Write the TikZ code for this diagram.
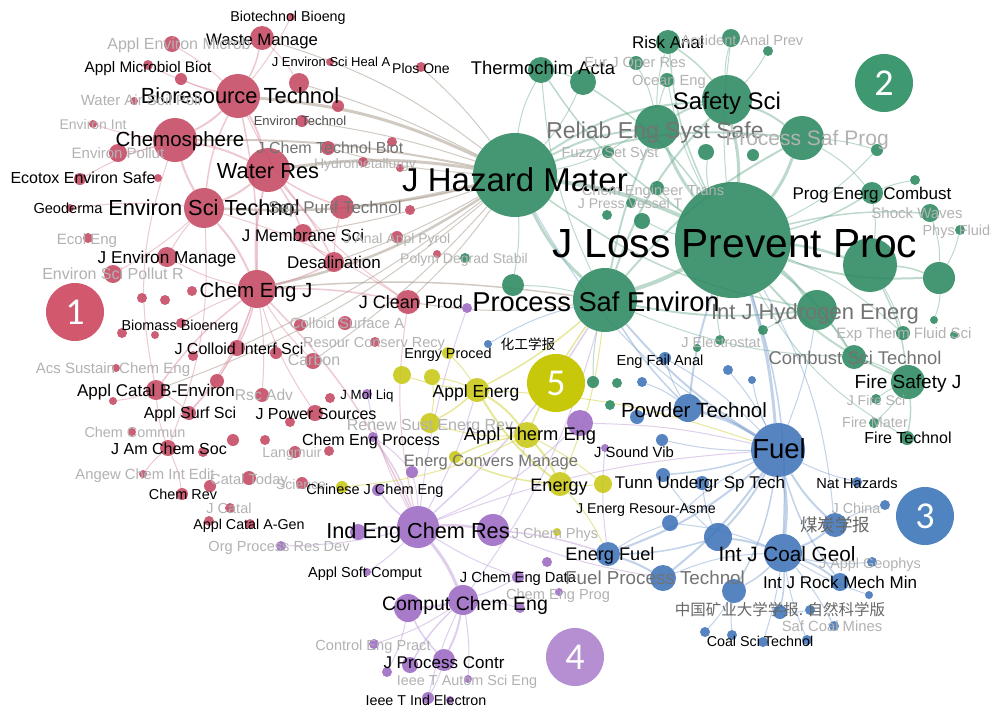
\documentclass[tikz,border=0pt]{standalone}
\usepackage{fontspec}
\setmainfont{Liberation Sans}
\newfontfamily\cjk{Noto Sans CJK SC}
\newfontfamily\bdgfont{Carlito}
\usetikzlibrary{backgrounds}
\newcommand{\jfs}[1]{\fontsize{#1}{#1}\selectfont}

\definecolor{clA}{RGB}{196,72,98}
\definecolor{clB}{RGB}{44,137,96}
\definecolor{clC}{RGB}{62,115,185}
\definecolor{clD}{RGB}{155,105,195}
\definecolor{clE}{RGB}{200,200,20}
\definecolor{clX}{RGB}{165,150,135}
\definecolor{bgA}{RGB}{210,88,110}
\definecolor{bgB}{RGB}{62,152,112}
\definecolor{bgC}{RGB}{80,132,192}
\definecolor{bgD}{RGB}{182,142,210}
\definecolor{bgE}{RGB}{200,200,10}

\tikzset{
  jr/.style={circle, inner sep=0pt, minimum size=#1, fill opacity=.88},
  ra/.style={jr=#1, fill=clA},
  ga/.style={jr=#1, fill=clB},
  ba/.style={jr=#1, fill=clC},
  pa/.style={jr=#1, fill=clD},
  ya/.style={jr=#1, fill=clE},
  tl/.style={inner sep=0pt, anchor=base, yshift=-0.36*#1pt, font=\jfs{#1}},
  ml/.style={tl=#1, text=black!55},
  fl/.style={tl=#1, text=black!30},
  cl/.style={tl=#1, font=\cjk\jfs{#1}},
  ea/.style={draw=clA!65, line width=#1, draw opacity=.45}, ea/.default=1pt,
  eb/.style={draw=clB!70, line width=#1, draw opacity=.45}, eb/.default=1pt,
  ec/.style={draw=clC!70, line width=#1, draw opacity=.45}, ec/.default=1pt,
  ed/.style={draw=clD!70, line width=#1, draw opacity=.45}, ed/.default=1pt,
  ee/.style={draw=clE!85, line width=#1, draw opacity=.5}, ee/.default=1pt,
  ex/.style={draw=clX, line width=#1, draw opacity=.5}, ex/.default=1pt,
  badge/.style={circle, inner sep=0pt, minimum size=58, text=white, font=\bdgfont\jfs{38}}
}

\begin{document}
\begin{tikzpicture}[x=1pt,y=-1pt]
\useasboundingbox (0,0) rectangle (991,710);

% cluster 1
\node[ra=8] (biobg) at (291,17) {};
\node[ra=24] (waste) at (262,38) {};
\node[ra=16] (aemic) at (172,44) {};
\node[ra=10] (amb) at (148,65) {};
\node[ra=12] (r1) at (181,79) {};
\node[ra=8] (jesh) at (330,62) {};
\node[ra=10] (plos) at (421,67) {};
\node[ra=20] (r2) at (299,83) {};
\node[ra=44] (biores) at (238,96) {};
\node[ra=8] (wasp) at (134,101) {};
\node[ra=12] (r3) at (338,106) {};
\node[ra=8] (envint) at (93,124) {};
\node[ra=12] (envtec) at (302,121) {};
\node[ra=44] (chemo) at (175,140) {};
\node[ra=18] (envpol) at (118,153) {};
\node[ra=14] (jctb) at (328,148) {};
\node[ra=10] (r4) at (392,142) {};
\node[ra=10] (hydro) at (363,162) {};
\node[ra=8] (r5) at (400,168) {};
\node[ra=44] (wres) at (268,170) {};
\node[ra=12] (ecotox) at (80,179) {};
\node[ra=8] (r6) at (158,178) {};
\node[ra=8] (geod) at (70,208) {};
\node[ra=40] (est) at (204,208) {};
\node[ra=24] (spt) at (342,207) {};
\node[ra=10] (r7) at (410,210) {};
\node[ra=18] (jms) at (303,233) {};
\node[ra=12] (jaap) at (397,237) {};
\node[ra=10] (ecoleng) at (88,238) {};
\node[ra=20] (jem) at (167,257) {};
\node[ra=20] (desal) at (334,262) {};
\node[ra=8] (r8) at (437,254) {};
\node[ra=18] (espr) at (113,274) {};
\node[ra=38] (cej) at (257,289) {};
\node[ra=10] (r9) at (142,298) {};
\node[ra=10] (r10) at (165,300) {};
\node[ra=10] (r11) at (192,291) {};
\node[ra=24] (jcp) at (408,302) {};
\node[ra=12] (r12) at (300,325) {};
\node[ra=14] (csa) at (345,323) {};
\node[ra=10] (biom) at (181,323) {};
\node[ra=10] (r13) at (122,333) {};
\node[ra=8] (r14) at (155,335) {};
\node[ra=10] (rcr) at (375,342) {};
\node[ra=16] (jcis) at (237,348) {};
\node[ra=10] (r15) at (193,356) {};
\node[ra=12] (r16) at (276,353) {};
\node[ra=16] (carbon) at (313,361) {};
\node[ra=8] (acs) at (116,368) {};
\node[ra=20] (acb) at (156,390) {};
\node[ra=14] (r17) at (217,381) {};
\node[ra=14] (rsc) at (262,395) {};
\node[ra=8] (r18) at (113,401) {};
\node[ra=10] (r19) at (330,398) {};
\node[ra=14] (ass) at (189,413) {};
\node[ra=16] (jps) at (315,413) {};
\node[ra=10] (r20) at (290,422) {};
\node[ra=8] (chcom) at (132,432) {};
\node[ra=12] (r21) at (233,440) {};
\node[ra=10] (r22) at (265,440) {};
\node[ra=16] (jacs) at (168,448) {};
\node[ra=10] (r23) at (203,452) {};
\node[ra=12] (lang) at (295,452) {};
\node[ra=10] (r24) at (329,451) {};
\node[ra=8] (angew) at (143,474) {};
\node[ra=12] (r25) at (210,486) {};
\node[ra=14] (catal) at (249,478) {};
\node[ra=12] (sci) at (302,483) {};
\node[ra=12] (chemrev) at (182,494) {};
\node[ra=10] (jcat) at (230,508) {};
\node[ra=10] (r26) at (209,521) {};
\node[ra=10] (acag) at (250,524) {};

% cluster 2
\node[ga=84] (jhm) at (515,175) {};
\node[ga=26] (thermo) at (541,70) {};
\node[ga=26] (g1) at (583,82) {};
\node[ga=24] (risk) at (668,42) {};
\node[ga=18] (aap) at (731,38) {};
\node[ga=10] (g2) at (768,51) {};
\node[ga=14] (ejor) at (636,63) {};
\node[ga=14] (ocean) at (667,80) {};
\node[ga=50] (safety) at (727,100) {};
\node[ga=44] (rel) at (657,127) {};
\node[ga=44] (psp) at (802,138) {};
\node[ga=12] (g3) at (877,150) {};
\node[ga=12] (fuzzy) at (608,152) {};
\node[ga=16] (g4) at (706,152) {};
\node[ga=12] (g5) at (753,155) {};
\node[ga=14] (cet) at (657,188) {};
\node[ga=10] (jpv) at (631,203) {};
\node[ga=10] (g6) at (607,215) {};
\node[ga=16] (g7) at (642,221) {};
\node[ga=22] (pec) at (872,193) {};
\node[ga=10] (g8) at (915,180) {};
\node[ga=18] (shock) at (930,213) {};
\node[ga=10] (phys) at (960,230) {};
\node[ga=116] (jlpp) at (733,240) {};
\node[ga=54] (g9) at (870,265) {};
\node[ga=32] (g10) at (939,278) {};
\node[ga=64] (pse) at (605,300) {};
\node[ga=40] (ijhe) at (817,310) {};
\node[ga=22] (g11) at (513,285) {};
\node[ga=10] (pds) at (465,258) {};
\node[ga=14] (etfs) at (903,333) {};
\node[ga=8] (g12) at (954,335) {};
\node[ga=8] (g13) at (934,320) {};
\node[ga=10] (jelec) at (720,340) {};
\node[ga=8] (g14) at (697,348) {};
\node[ga=10] (g15) at (763,330) {};
\node[ga=24] (cst) at (854,357) {};
\node[ga=34] (fsj) at (908,382) {};
\node[ga=10] (jfs) at (876,399) {};
\node[ga=10] (fmat) at (874,423) {};
\node[ga=14] (ftech) at (907,438) {};
\node[ga=12] (g16) at (593,382) {};
\node[ga=10] (g17) at (617,383) {};
\node[ga=10] (g18) at (610,405) {};

% cluster 3
\node[ba=54] (fuel) at (778,450) {};
\node[ba=28] (powder) at (688,408) {};
\node[ba=12] (efa) at (665,358) {};
\node[ba=8] (hgxb) at (488,344) {};
\node[ba=10] (b1) at (728,370) {};
\node[ba=8] (b2) at (752,380) {};
\node[ba=10] (b3) at (642,382) {};
\node[ba=14] (b4) at (637,417) {};
\node[ba=12] (jsv) at (662,440) {};
\node[ba=14] (tunn) at (663,475) {};
\node[ba=14] (b5) at (702,483) {};
\node[ba=10] (nh) at (857,482) {};
\node[ba=10] (jchina) at (885,505) {};
\node[ba=24] (mtxb) at (835,525) {};
\node[ba=16] (jera) at (670,523) {};
\node[ba=38] (ijcg) at (783,553) {};
\node[ba=28] (b6) at (718,537) {};
\node[ba=24] (ef) at (608,554) {};
\node[ba=10] (jag) at (872,562) {};
\node[ba=26] (fpt) at (663,578) {};
\node[ba=18] (ijrm) at (840,582) {};
\node[ba=24] (b7) at (734,591) {};
\node[ba=8] (b8) at (869,595) {};
\node[ba=14] (zgky) at (780,612) {};
\node[ba=10] (b9) at (810,610) {};
\node[ba=10] (scm) at (834,626) {};
\node[ba=10] (b10) at (705,632) {};
\node[ba=10] (b11) at (732,635) {};
\node[ba=10] (cst2) at (763,642) {};
\node[ba=10] (b12) at (807,640) {};

% cluster 4
\node[pa=10] (cep) at (373,437) {};
\node[pa=12] (p1) at (412,472) {};
\node[pa=12] (cjce) at (378,490) {};
\node[pa=42] (iecr) at (418,527) {};
\node[pa=32] (p2) at (493,530) {};
\node[pa=16] (p3) at (358,532) {};
\node[pa=10] (opr) at (281,546) {};
\node[pa=8] (asc) at (367,572) {};
\node[pa=12] (jced) at (518,577) {};
\node[pa=10] (p4) at (547,562) {};
\node[pa=8] (cepg) at (559,592) {};
\node[pa=30] (cce) at (463,600) {};
\node[pa=28] (p5) at (408,608) {};
\node[pa=10] (p6) at (520,608) {};
\node[pa=10] (cept) at (374,644) {};
\node[pa=22] (jpc) at (444,660) {};
\node[pa=16] (p7) at (410,665) {};
\node[pa=10] (p8) at (387,672) {};
\node[pa=8] (ieeea) at (468,679) {};
\node[pa=12] (ieeei) at (428,698) {};
\node[pa=8] (p9) at (450,700) {};
\node[pa=26] (p10) at (580,423) {};
\node[pa=8] (p11) at (605,448) {};
\node[pa=10] (jml) at (367,394) {};
\node[pa=10] (p12) at (467,308) {};

% cluster 5
\node[ya=12] (ep) at (448,353) {};
\node[ya=18] (y1) at (402,375) {};
\node[ya=16] (y2) at (432,377) {};
\node[ya=24] (ae) at (477,390) {};
\node[ya=20] (rser) at (430,423) {};
\node[ya=26] (ate) at (527,435) {};
\node[ya=12] (ecm) at (455,457) {};
\node[ya=24] (energy) at (560,484) {};
\node[ya=18] (y4) at (603,484) {};
\node[ya=12] (y5) at (342,487) {};
\node[ya=8] (jcph) at (557,532) {};

% links
\begin{pgfonlayer}{background}
\fill[white] (0,0) rectangle (991,710);
\draw[ex=3pt] (jhm) to[bend right=10] (biores);
\draw[ex=3pt] (jhm) to[bend right=8] (wres);
\draw[ex=2pt] (jhm) to[bend right=6] (chemo);
\draw[ex=2.5pt] (jhm) to[bend left=8] (est);
\draw[ex=2.5pt] (jhm) to[bend left=10] (cej);
\draw[ex] (jhm) to[bend left=5] (jcp);
\draw[ex=1.5pt] (jhm) to[bend left=5] (spt);
\draw[ex] (jhm) to[bend left=5] (desal);
\draw[ex] (jhm) to[bend left=5] (jms);
\draw[ex] (jhm) to[bend right=5] (envtec);
\draw[ex] (jhm) to[bend right=5] (plos);
\draw[ex] (jhm) to[bend right=5] (r2);
\draw[ex] (jhm) to[bend right=10] (waste);
\draw[ex] (jhm) to[bend left=6] (carbon);
\draw[ex] (jhm) to[bend left=6] (jcis);
\draw[ex] (jhm) to[bend left=10] (acb);
\draw[ex] (jhm) to[bend left=6] (jctb);
\draw[ex] (pse) to[bend left=8] (jcp);
\draw[ex=1.5pt] (pse) to[bend right=6] (cej);
\draw[eb=4pt] (jhm) to[bend left=8] (jlpp);
\draw[eb=3pt] (jhm) to[bend right=10] (pse);
\draw[eb=2pt] (jhm) to[bend left=10] (rel);
\draw[eb=2pt] (jhm) to[bend left=15] (safety);
\draw[eb=2pt] (jhm) to[bend left=12] (psp);
\draw[eb] (jhm) to[bend left=10] (thermo);
\draw[eb] (jhm) to[bend right=8] (g1);
\draw[eb=1.5pt] (jhm) to[bend right=12] (ijhe);
\draw[eb] (jhm) to[bend left=6] (g11);
\draw[eb] (jhm) to[bend right=6] (fuzzy);
\draw[eb=4pt] (jlpp) to[bend left=5] (pse);
\draw[eb=3pt] (jlpp) to[bend right=8] (safety);
\draw[eb=3pt] (jlpp) to[bend left=8] (rel);
\draw[eb=3pt] (jlpp) to[bend right=8] (psp);
\draw[eb=1.5pt] (jlpp) to[bend left=10] (risk);
\draw[eb=2.5pt] (jlpp) to[bend left=6] (g9);
\draw[eb=2pt] (jlpp) to[bend right=10] (g10);
\draw[eb=2.5pt] (jlpp) to[bend left=8] (ijhe);
\draw[eb=2pt] (jlpp) to[bend left=10] (cst);
\draw[eb=2pt] (jlpp) to[bend right=12] (fsj);
\draw[eb=1.5pt] (jlpp) to[bend right=8] (pec);
\draw[eb=1.5pt] (jlpp) to[bend left=8] (shock);
\draw[eb=1.5pt] (jlpp) to[bend left=12] (thermo);
\draw[eb] (jlpp) to[bend left=6] (aap);
\draw[eb] (jlpp) to[bend left=10] (etfs);
\draw[eb] (jlpp) to[bend right=15] (ftech);
\draw[eb=1.5pt] (jlpp) to[bend right=10] (g1);
\draw[eb] (jlpp) to[bend left=8] (ocean);
\draw[eb] (jlpp) to[bend left=8] (g4);
\draw[eb] (jlpp) to[bend right=8] (jelec);
\draw[eb] (jlpp) to[bend right=10] (g3);
\draw[eb] (jlpp) to[bend left=6] (g7);
\draw[eb] (jlpp) to[bend left=6] (cet);
\draw[eb=2pt] (pse) to[bend left=12] (safety);
\draw[eb=2pt] (pse) to[bend left=6] (rel);
\draw[eb=2pt] (pse) to[bend left=10] (psp);
\draw[eb=2pt] (pse) to[bend right=8] (ijhe);
\draw[eb] (pse) to[bend left=10] (thermo);
\draw[eb] (pse) to[bend right=6] (g11);
\draw[eb] (pse) to[bend right=10] (cst);
\draw[eb] (pse) to[bend right=6] (g16);
\draw[eb=2pt] (safety) to[bend right=10] (rel);
\draw[eb=1.5pt] (safety) to[bend right=8] (risk);
\draw[eb] (safety) to[bend left=8] (aap);
\draw[eb=2pt] (safety) to[bend left=10] (psp);
\draw[eb] (safety) to[bend right=6] (g2);
\draw[eb] (rel) to[bend left=8] (risk);
\draw[eb] (rel) to[bend right=8] (ejor);
\draw[eb] (rel) to[bend left=6] (ocean);
\draw[eb] (rel) to[bend right=6] (fuzzy);
\draw[eb] (psp) to[bend left=6] (g3);
\draw[eb] (psp) to[bend left=10] (pec);
\draw[eb=1.5pt] (g9) to[bend left=8] (g10);
\draw[eb=1.5pt] (g9) to[bend left=10] (fsj);
\draw[eb] (g9) to[bend right=8] (pec);
\draw[eb] (g9) to[bend left=6] (etfs);
\draw[eb] (g10) to[bend right=10] (shock);
\draw[eb] (g10) to[bend right=8] (phys);
\draw[eb] (g10) to[bend left=10] (g13);
\draw[eb=1.5pt] (fsj) to[bend left=8] (ftech);
\draw[eb] (fsj) to[bend right=8] (cst);
\draw[eb] (fsj) to[bend right=6] (jfs);
\draw[eb] (fsj) to[bend left=6] (fmat);
\draw[eb] (ijhe) to[bend left=6] (cst);
\draw[eb] (ijhe) to[bend right=6] (g15);
\draw[eb] (thermo) to[bend left=8] (g1);
\draw[eb] (pec) to[bend left=6] (g8);
\draw[ec=3pt] (jlpp) to[bend left=6] (fuel);
\draw[ec=2pt] (jlpp) to[bend right=6] (powder);
\draw[ec=1.5pt] (jlpp) to[bend left=10] (ijcg);
\draw[ec] (jlpp) to[bend left=12] (mtxb);
\draw[ec=2pt] (pse) to[bend right=8] (fuel);
\draw[ec=1.5pt] (pse) to[bend right=6] (powder);
\draw[ec] (ijhe) to[bend left=6] (fuel);
\draw[ec] (jhm) to[bend right=15] (fuel);
\draw[ec=3pt] (fuel) to[bend right=8] (powder);
\draw[ec=3pt] (fuel) to[bend left=8] (ijcg);
\draw[ec=2pt] (fuel) to[bend left=10] (ef);
\draw[ec=2pt] (fuel) to[bend left=8] (fpt);
\draw[ec=2pt] (fuel) to[bend right=8] (mtxb);
\draw[ec] (fuel) to[bend right=6] (nh);
\draw[ec=1.5pt] (fuel) to[bend left=6] (tunn);
\draw[ec=1.5pt] (fuel) to[bend right=10] (ijrm);
\draw[ec=2pt] (fuel) to[bend left=6] (b6);
\draw[ec=1.5pt] (fuel) to[bend left=10] (b7);
\draw[ec] (fuel) to[bend right=8] (efa);
\draw[ec] (fuel) to[bend left=6] (jsv);
\draw[ec] (fuel) to[bend right=6] (b1);
\draw[ec] (fuel) to[bend left=6] (b2);
\draw[ec] (fuel) to[bend right=8] (jera);
\draw[ec=2pt] (ijcg) to[bend right=8] (mtxb);
\draw[ec=2pt] (ijcg) to[bend left=8] (ijrm);
\draw[ec=2pt] (ijcg) to[bend right=6] (b6);
\draw[ec=1.5pt] (ijcg) to[bend left=6] (zgky);
\draw[ec] (ijcg) to[bend right=10] (jag);
\draw[ec=1.5pt] (ijcg) to[bend left=8] (b7);
\draw[ec] (ijcg) to[bend right=6] (b8);
\draw[ec] (ijcg) to[bend left=6] (scm);
\draw[ec] (ijcg) to[bend right=8] (jera);
\draw[ec] (ijcg) to[bend right=10] (fpt);
\draw[ec=2pt] (ef) to[bend left=6] (fpt);
\draw[ec=1.5pt] (ef) to[bend right=8] (b6);
\draw[ec] (ef) to[bend left=6] (jera);
\draw[ec] (powder) to[bend right=6] (b4);
\draw[ec] (powder) to[bend left=8] (efa);
\draw[ec] (powder) to[bend right=8] (b3);
\draw[ec] (mtxb) to[bend left=8] (jchina);
\draw[ec] (b7) to[bend left=6] (b10);
\draw[ec] (b7) to[bend right=6] (b11);
\draw[ec] (ijcg) to[bend left=4] (cst2);
\draw[ec] (zgky) to[bend right=6] (b9);
\draw[ec] (ijcg) to[bend right=6] (b12);
\draw[ec] (b6) to[bend left=8] (b5);
\draw[ec] (tunn) to[bend right=6] (b6);
\draw[ec] (hgxb) to[bend left=8] (pse);
\draw[ed=3pt] (iecr) to[bend left=8] (cce);
\draw[ed=2.5pt] (iecr) to[bend left=6] (p2);
\draw[ed=1.5pt] (iecr) to[bend right=6] (p3);
\draw[ed=1.5pt] (iecr) to[bend left=8] (cjce);
\draw[ed=1.5pt] (iecr) to[bend right=8] (cep);
\draw[ed] (iecr) to[bend right=6] (jced);
\draw[ed] (iecr) to[bend left=6] (asc);
\draw[ed] (iecr) to[bend left=6] (opr);
\draw[ed=2pt] (cce) to[bend left=8] (jpc);
\draw[ed=2.5pt] (cce) to[bend left=6] (p5);
\draw[ed=1.5pt] (cce) to[bend right=8] (p7);
\draw[ed] (cce) to[bend right=6] (ieeei);
\draw[ed] (cce) to[bend left=6] (ieeea);
\draw[ed] (cce) to[bend left=8] (cept);
\draw[ed=1.5pt] (p5) to[bend right=8] (jpc);
\draw[ed] (p5) to[bend left=8] (p8);
\draw[ed=1.5pt] (p2) to[bend left=6] (ef);
\draw[ed] (p2) to[bend right=8] (ate);
\draw[ed] (p2) to[bend right=6] (fpt);
\draw[ed] (iecr) to[bend left=8] (fuel);
\draw[ed] (iecr) to[bend right=10] (p10);
\draw[ed] (cce) to[bend right=6] (jced);
\draw[ed] (cce) to[bend left=6] (p6);
\draw[ed] (iecr) to[bend left=8] (jml);
\draw[ed] (cep) to[bend left=8] (p1);
\draw[ed] (p1) to[bend left=6] (iecr);
\draw[ed] (iecr) to[bend right=6] (ae);
\draw[ed=1.5pt] (pse) to[bend left=8] (iecr);
\draw[ed] (pse) to[bend left=10] (cce);
\draw[ed] (p10) to[bend left=6] (fuel);
\draw[ed] (p11) to[bend right=6] (ef);
\draw[ed] (jpc) to[bend left=6] (ieeei);
\draw[ed] (p12) to[bend right=6] (iecr);
\draw[ea=1.5pt] (cej) to[bend left=10] (iecr);
\draw[ea] (jcp) to[bend right=10] (iecr);
\draw[ee=2pt] (ae) to[bend left=10] (ate);
\draw[ee=2pt] (ae) to[bend right=10] (energy);
\draw[ee=1.5pt] (ae) to[bend left=6] (rser);
\draw[ee] (ae) to[bend right=6] (ep);
\draw[ee] (ae) to[bend left=6] (y1);
\draw[ee] (ae) to[bend right=6] (y2);
\draw[ee=2pt] (ate) to[bend left=8] (energy);
\draw[ee=1.5pt] (ate) to[bend right=8] (ecm);
\draw[ee] (ate) to[bend left=6] (y4);
\draw[ee=1.5pt] (energy) to[bend left=10] (ecm);
\draw[ee] (energy) to[bend right=6] (y4);
\draw[ee] (rser) to[bend right=8] (y2);
\draw[ee] (ate) to[bend left=10] (rser);
\draw[ee] (energy) to[bend left=8] (ef);
\draw[ee=1.5pt] (pse) to[bend left=6] (ae);
\draw[ee=1.5pt] (pse) to[bend right=6] (ate);
\draw[ee] (pse) to[bend left=8] (energy);
\draw[ee] (ae) to[bend left=8] (fuel);
\draw[ee] (y5) to[bend right=10] (ate);
\draw[ea=2pt] (biores) to[bend left=8] (chemo);
\draw[ea=2pt] (biores) to[bend left=8] (wres);
\draw[ea=1.5pt] (biores) to[bend right=8] (waste);
\draw[ea=1.5pt] (biores) to[bend right=10] (est);
\draw[ea=1.5pt] (biores) to[bend left=6] (cej);
\draw[ea] (biores) to[bend left=6] (amb);
\draw[ea] (biores) to[bend right=6] (aemic);
\draw[ea] (biores) to[bend left=6] (r1);
\draw[ea] (biores) to[bend right=6] (biobg);
\draw[ea=2pt] (chemo) to[bend left=8] (wres);
\draw[ea=2pt] (chemo) to[bend right=6] (est);
\draw[ea] (chemo) to[bend left=6] (envpol);
\draw[ea] (chemo) to[bend right=6] (ecotox);
\draw[ea] (chemo) to[bend left=6] (envint);
\draw[ea=2pt] (wres) to[bend left=8] (est);
\draw[ea=2pt] (wres) to[bend right=8] (cej);
\draw[ea=1.5pt] (wres) to[bend left=6] (jms);
\draw[ea=1.5pt] (wres) to[bend left=8] (desal);
\draw[ea=1.5pt] (wres) to[bend right=6] (spt);
\draw[ea=2pt] (est) to[bend left=8] (cej);
\draw[ea] (est) to[bend right=6] (jem);
\draw[ea] (est) to[bend left=6] (espr);
\draw[ea] (est) to[bend right=6] (geod);
\draw[ea=1.5pt] (cej) to[bend left=6] (jcis);
\draw[ea=1.5pt] (cej) to[bend right=8] (acb);
\draw[ea] (cej) to[bend left=8] (jem);
\draw[ea=1.5pt] (cej) to[bend right=6] (desal);
\draw[ea=1.5pt] (cej) to[bend left=6] (jcp);
\draw[ea] (cej) to[bend right=8] (jps);
\draw[ea] (cej) to[bend left=10] (ass);
\draw[ea] (cej) to[bend right=6] (carbon);
\draw[ea] (cej) to[bend left=6] (r17);
\draw[ea] (cej) to[bend right=6] (biom);
\draw[ea] (cej) to[bend left=6] (rsc);
\draw[ea] (acb) to[bend left=8] (ass);
\draw[ea] (acb) to[bend right=8] (jacs);
\draw[ea] (acb) to[bend left=6] (r18);
\draw[ea] (jcis) to[bend left=6] (ass);
\draw[ea=1.5pt] (jms) to[bend right=8] (desal);
\draw[ea] (jacs) to[bend left=8] (chemrev);
\draw[ea] (jacs) to[bend right=6] (angew);
\draw[ea] (est) to[bend left=8] (jcp);
\draw[ea] (desal) to[bend left=6] (spt);
\draw[ea] (waste) to[bend left=6] (r2);
\draw[ea] (chemo) to[bend right=15] (acb);
\draw[ea] (est) to[bend left=12] (jacs);
\draw[ea] (biores) to[bend right=15] (jcp);
\end{pgfonlayer}

% labels
\node[tl=14.3] (biobg-l) at (288,16) {Biotechnol Bioeng};
\node[tl=16.7] (waste-l) at (262,39) {Waste Manage};
\node[fl=16] (aemic-l) at (179,44) {Appl Environ Microb};
\node[tl=15.3] (amb-l) at (148,67) {Appl Microbiol Biot};
\node[tl=13] (jesh-l) at (331,62) {J Environ Sci Heal A};
\node[tl=14] (plos-l) at (421,68) {Plos One};
\node[tl=21.9] (biores-l) at (240,96) {Bioresource Technol};
\node[fl=15] (wasp-l) at (141,100) {Water Air Soil Poll};
\node[fl=14] (envint-l) at (93,124) {Environ Int};
\node[tl=13, text=black!70] (envtec-l) at (300,121) {Environ Technol};
\node[tl=20.5] (chemo-l) at (180,139) {Chemosphere};
\node[fl=15] (envpol-l) at (118,153) {Environ Pollut};
\node[ml=16] (jctb-l) at (330,148) {J Chem Technol Biot};
\node[fl=14] (hydro-l) at (365,163) {Hydrometallurgy};
\node[tl=21.8] (wres-l) at (268,171) {Water Res};
\node[tl=16] (ecotox-l) at (83,178) {Ecotox Environ Safe};
\node[tl=14.6] (geod-l) at (68,208) {Geoderma};
\node[tl=21.8] (est-l) at (204,208) {Environ Sci Technol};
\node[ml=17] (spt-l) at (335,207) {Sep Purif Technol};
\node[tl=16.9] (jms-l) at (303,235) {J Membrane Sci};
\node[fl=14] (jaap-l) at (397,238) {J Anal Appl Pyrol};
\node[fl=15] (ecoleng-l) at (87,239) {Ecol Eng};
\node[tl=17.2] (jem-l) at (167,257) {J Environ Manage};
\node[tl=17] (desal-l) at (334,262) {Desalination};
\node[fl=14] (pds-l) at (464,258) {Polym Degrad Stabil};
\node[fl=16] (espr-l) at (113,274) {Environ Sci Pollut R};
\node[tl=20.5] (cej-l) at (256,290) {Chem Eng J};
\node[tl=18] (jcp-l) at (411,302) {J Clean Prod};
\node[tl=14.4] (biom-l) at (180,325) {Biomass Bioenerg};
\node[fl=14.8] (csa-l) at (347,323) {Colloid Surface A};
\node[fl=14.5] (rcr-l) at (374,342) {Resour Conserv Recy};
\node[tl=16] (jcis-l) at (239,349) {J Colloid Interf Sci};
\node[fl=16] (carbon-l) at (314,360) {Carbon};
\node[fl=15] (acs-l) at (113,368) {Acs Sustain Chem Eng};
\node[tl=17] (acb-l) at (156,390) {Appl Catal B-Environ};
\node[fl=15.6] (rsc-l) at (264,395) {Rsc Adv};
\node[tl=13.3] (jml-l) at (367,395) {J Mol Liq};
\node[tl=16] (ass-l) at (190,413) {Appl Surf Sci};
\node[tl=16] (jps-l) at (316,414) {J Power Sources};
\node[fl=14.4] (chcom-l) at (135,432) {Chem Commun};
\node[tl=16] (jacs-l) at (169,449) {J Am Chem Soc};
\node[fl=14.2] (lang-l) at (292,452) {Langmuir};
\node[tl=16] (cep-l) at (371,440) {Chem Eng Process};
\node[fl=14.8] (angew-l) at (145,474) {Angew Chem Int Edit};
\node[fl=14.7] (catal-l) at (249,479) {Catal Today};
\node[fl=14] (sci-l) at (301,484) {Science};
\node[tl=14.4] (chemrev-l) at (183,494) {Chem Rev};
\node[tl=14.5] (cjce-l) at (375,489) {Chinese J Chem Eng};
\node[fl=14.5] (jcat-l) at (229,508) {J Catal};
\node[tl=14.3] (acag-l) at (249,524) {Appl Catal A-Gen};
\node[tl=21.7] (iecr-l) at (418,531) {Ind Eng Chem Res};
\node[fl=14.6] (opr-l) at (279,546) {Org Process Res Dev};
\node[tl=14.5] (asc-l) at (365,572) {Appl Soft Comput};
\node[tl=14.7] (jced-l) at (518,577) {J Chem Eng Data};
\node[fl=14.6] (cepg-l) at (558,594) {Chem Eng Prog};
\node[tl=19.5] (cce-l) at (465,603) {Comput Chem Eng};
\node[fl=14.6] (cept-l) at (373,645) {Control Eng Pract};
\node[tl=17] (jpc-l) at (444,662) {J Process Contr};
\node[fl=14.4] (ieeea-l) at (467,680) {Ieee T Autom Sci Eng};
\node[tl=14.3] (ieeei-l) at (426,700) {Ieee T Ind Electron};
\node[fl=14.5] (jcph-l) at (555,533) {J Chem Phys};
\node[tl=14.4] (ep-l) at (448,353) {Enrgy Proced};
\node[tl=17.5] (ae-l) at (476,391) {Appl Energ};
\node[fl=16] (rser-l) at (430,425) {Renew Sust Energ Rev};
\node[tl=18.3] (ate-l) at (530,434) {Appl Therm Eng};
\node[ml=16.5] (ecm-l) at (491,461) {Energ Convers Manage};
\node[tl=18] (energy-l) at (559,485) {Energy};
\node[tl=33] (jhm-l) at (515,180) {J Hazard Mater};
\node[tl=18.4] (thermo-l) at (543,68) {Thermochim Acta};
\node[tl=17] (risk-l) at (668,42) {Risk Anal};
\node[fl=14.5] (aap-l) at (742,40) {Accident Anal Prev};
\node[fl=14.7] (ejor-l) at (635,62) {Eur J Oper Res};
\node[fl=14.7] (ocean-l) at (669,80) {Ocean Eng};
\node[tl=24] (safety-l) at (727,101) {Safety Sci};
\node[ml=23] (rel-l) at (655,130) {Reliab Eng Syst Safe};
\node[fl=21] (psp-l) at (807,138) {Process Saf Prog};
\node[fl=14.5] (fuzzy-l) at (610,152) {Fuzzy Set Syst};
\node[fl=14.6] (cet-l) at (653,190) {Chem Engineer Trans};
\node[fl=14] (jpv-l) at (630,203) {J Press Vessel T};
\node[tl=17] (pec-l) at (872,193) {Prog Energ Combust};
\node[fl=15] (shock-l) at (917,213) {Shock Waves};
\node[fl=14.5] (phys-l) at (960,230) {Phys Fluids};
\node[tl=40.7] (jlpp-l) at (735,243) {J Loss Prevent Proc};
\node[tl=27.3] (pse-l) at (596,302) {Process Saf Environ};
\node[ml=22] (ijhe-l) at (815,312) {Int J Hydrogen Energ};
\node[fl=15] (etfs-l) at (904,333) {Exp Therm Fluid Sci};
\node[fl=14.4] (jelec-l) at (721,342) {J Electrostat};
\node[ml=18.4] (cst-l) at (855,358) {Combust Sci Technol};
\node[tl=19] (fsj-l) at (908,382) {Fire Safety J};
\node[fl=14] (jfs-l) at (876,400) {J Fire Sci};
\node[fl=14.4] (fmat-l) at (875,422) {Fire Mater};
\node[tl=16] (ftech-l) at (908,438) {Fire Technol};
\node[tl=14.6] (efa-l) at (660,360) {Eng Fail Anal};
\node[cl=13.7] (hgxb-l) at (528,345) {化工学报};
\node[tl=20.5] (powder-l) at (694,410) {Powder Technol};
\node[tl=27.5] (fuel-l) at (779,449) {Fuel};
\node[tl=14.8] (jsv-l) at (634,452) {J Sound Vib};
\node[tl=17] (tunn-l) at (700,482) {Tunn Undergr Sp Tech};
\node[tl=14.6] (nh-l) at (857,483) {Nat Hazards};
\node[fl=14.4] (jchina-l) at (856,508) {J China};
\node[cl=17.5, text=black!60] (mtxb-l) at (835,525) {煤炭学报};
\node[tl=14.2] (jera-l) at (646,508) {J Energ Resour-Asme};
\node[tl=18.2] (ef-l) at (610,554) {Energ Fuel};
\node[tl=20.7] (ijcg-l) at (787,554) {Int J Coal Geol};
\node[fl=14.4] (jag-l) at (870,563) {J Appl Geophys};
\node[ml=18.8] (fpt-l) at (655,578) {Fuel Process Technol};
\node[tl=17] (ijrm-l) at (840,582) {Int J Rock Mech Min};
\node[cl=15.5, text=black!60] (zgky-l) at (780,610) {中国矿业大学学报. 自然科学版};
\node[fl=14.8] (scm-l) at (832,626) {Saf Coal Mines};
\node[tl=14.3] (cst2-l) at (760,641) {Coal Sci Technol};

% cluster numbers
\node[badge, fill=bgA] (n1) at (75,312) {1};
\node[badge, fill=bgB] (n2) at (884,83) {2};
\node[badge, fill=bgC] (n3) at (925,516) {3};
\node[badge, fill=bgD] (n4) at (575,657) {4};
\node[badge, fill=bgE] (n5) at (556,383) {5};
\end{tikzpicture}
\end{document}
